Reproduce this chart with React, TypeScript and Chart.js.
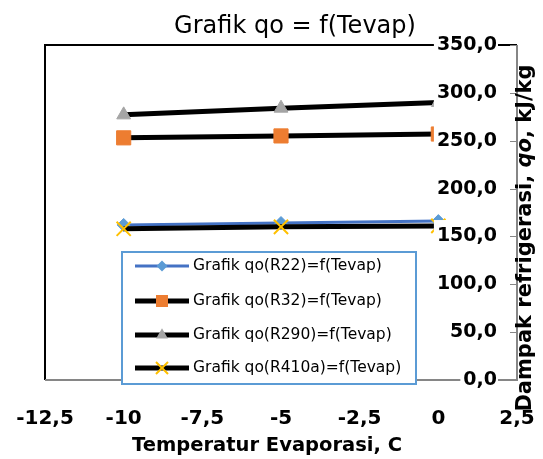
import React, { useEffect, useRef } from "react";
import { Chart, registerables } from "chart.js";

Chart.register(...registerables);

// ---- data ----
const temps: number[] = [-10, -5, 0];
const qoR22: number[] = [162, 164, 166];
const qoR32: number[] = [253, 255, 257];
const qoR290: number[] = [277, 284, 290];
const qoR410a: number[] = [158, 160, 161];
const seriesNames: string[] = [
  "Grafik qo(R22)=f(Tevap)",
  "Grafik qo(R32)=f(Tevap)",
  "Grafik qo(R290)=f(Tevap)",
  "Grafik qo(R410a)=f(Tevap)",
];
const xMin = -12.5;
const xMax = 2.5;
const xStep = 2.5;
const yMin = 0;
const yMax = 350;
const yStep = 50;
const chartTitle = "Grafik qo = f(Tevap)";
const xTitle = "Temperatur Evaporasi, C";
const yTitleParts: [string, boolean][] = [
  ["Dampak refrigerasi, ", false],
  ["qo", true],
  [", kJ/kg", false],
];

const FONT = "'DejaVu Sans', sans-serif";

type Style = {
  line: string;
  lineWidth: number;
  point: string;
  radius: number;
  fill: string;
};
const styles: Style[] = [
  { line: "#4472C4", lineWidth: 3, point: "rectRot", radius: 6.5, fill: "#5B9BD5" },
  { line: "#000000", lineWidth: 5, point: "rect", radius: 10, fill: "#ED7D31" },
  { line: "#000000", lineWidth: 5, point: "triangle", radius: 8, fill: "#A5A5A5" },
  { line: "#000000", lineWidth: 5, point: "crossRot", radius: 10, fill: "#FFC000" },
];

const fmt = (v: number, dec: number) => v.toFixed(dec).replace(".", ",");

function drawMarker(ctx: CanvasRenderingContext2D, kind: string, x: number, y: number, r: number, color: string) {
  ctx.save();
  ctx.fillStyle = color;
  ctx.strokeStyle = color;
  ctx.beginPath();
  if (kind === "rectRot") {
    ctx.moveTo(x, y - r);
    ctx.lineTo(x + r, y);
    ctx.lineTo(x, y + r);
    ctx.lineTo(x - r, y);
    ctx.closePath();
    ctx.fill();
  } else if (kind === "rect") {
    const s = r * Math.SQRT1_2;
    ctx.rect(x - s, y - s, 2 * s, 2 * s);
    ctx.fill();
  } else if (kind === "triangle") {
    const c = Math.cos(Math.PI / 6) * r;
    ctx.moveTo(x, y - r);
    ctx.lineTo(x + c, y + r / 2);
    ctx.lineTo(x - c, y + r / 2);
    ctx.closePath();
    ctx.fill();
  } else if (kind === "crossRot") {
    const s = r * Math.SQRT1_2;
    ctx.lineWidth = 2;
    ctx.moveTo(x - s, y - s);
    ctx.lineTo(x + s, y + s);
    ctx.moveTo(x + s, y - s);
    ctx.lineTo(x - s, y + s);
    ctx.stroke();
  }
  ctx.restore();
}

const framePlugin = {
  id: "frame",
  beforeDatasetsDraw(chart: any) {
    const { ctx, chartArea: a, scales } = chart;
    ctx.save();
    ctx.lineWidth = 2;
    ctx.strokeStyle = "#000000";
    ctx.beginPath();
    ctx.moveTo(a.left, a.bottom);
    ctx.lineTo(a.left, a.top);
    ctx.lineTo(a.right, a.top);
    ctx.stroke();
    ctx.strokeStyle = "#868686";
    ctx.beginPath();
    ctx.moveTo(a.left, a.bottom);
    ctx.lineTo(a.right, a.bottom);
    ctx.lineTo(a.right, a.top);
    ctx.stroke();
    ctx.lineWidth = 1;
    const ys = scales.y;
    ys.ticks.forEach((t: any) => {
      const py = Math.round(ys.getPixelForValue(t.value)) + 0.5;
      ctx.beginPath();
      ctx.moveTo(a.right - 7, py);
      ctx.lineTo(a.right, py);
      ctx.stroke();
    });
    ctx.restore();
  },
};

const textPlugin = {
  id: "texts",
  afterDraw(chart: any) {
    const { ctx } = chart;
    ctx.save();
    ctx.fillStyle = "#000000";
    // chart title
    ctx.font = `24px ${FONT}`;
    ctx.textAlign = "center";
    ctx.textBaseline = "alphabetic";
    ctx.fillText(chartTitle, 295, 33);
    // x title
    ctx.font = `bold 19.5px ${FONT}`;
    ctx.fillText(xTitle, 267, 451);
    // y title (rotated, mixed italic)
    ctx.translate(531, 238);
    ctx.rotate(-Math.PI / 2);
    const fonts = yTitleParts.map(([, it]) => `${it ? "italic " : ""}bold 21px ${FONT}`);
    let total = 0;
    const widths = yTitleParts.map(([t], i) => {
      ctx.font = fonts[i];
      const w = ctx.measureText(t).width;
      total += w;
      return w;
    });
    let cx = -total / 2;
    ctx.textAlign = "left";
    yTitleParts.forEach(([t], i) => {
      ctx.font = fonts[i];
      ctx.fillText(t, cx, 0);
      cx += widths[i];
    });
    ctx.restore();

    // legend
    ctx.save();
    const lx = 122, ly = 252, lw = 294, lh = 132;
    ctx.fillStyle = "#ffffff";
    ctx.fillRect(lx, ly, lw, lh);
    ctx.strokeStyle = "#5B9BD5";
    ctx.lineWidth = 2;
    ctx.strokeRect(lx, ly, lw, lh);
    const rows = [266, 301, 335, 368];
    seriesNames.forEach((name, i) => {
      const s = styles[i];
      const y = rows[i];
      ctx.strokeStyle = s.line;
      ctx.lineWidth = s.lineWidth;
      ctx.beginPath();
      ctx.moveTo(135, y);
      ctx.lineTo(189, y);
      ctx.stroke();
      drawMarker(ctx, s.point, 162, y, s.radius * 0.85, s.fill);
      ctx.fillStyle = "#000000";
      ctx.font = `15.5px ${FONT}`;
      ctx.textAlign = "left";
      ctx.textBaseline = "middle";
      ctx.fillText(name, 193, y);
    });
    ctx.restore();
  },
};

export default function App() {
  const ref = useRef<HTMLCanvasElement | null>(null);
  useEffect(() => {
    if (!ref.current) return;
    const series = [qoR22, qoR32, qoR290, qoR410a];
    const chart = new Chart(ref.current, {
      type: "line",
      data: {
        datasets: series.map((vals, i) => ({
          label: seriesNames[i],
          data: temps.map((t, j) => ({ x: t, y: vals[j] })),
          borderColor: styles[i].line,
          borderWidth: styles[i].lineWidth,
          pointStyle: styles[i].point as any,
          pointRadius: styles[i].radius,
          pointBackgroundColor: styles[i].fill,
          pointBorderColor: styles[i].fill,
          pointBorderWidth: styles[i].point === "crossRot" ? 2 : 1,
          fill: false,
          tension: 0,
          order: 4 - i,
        })),
      },
      options: {
        animation: false,
        responsive: false,
        layout: { autoPadding: false, padding: { left: 45, top: 45, right: 0, bottom: 0 } },
        plugins: {
          legend: { display: false },
          title: { display: false },
          tooltip: { enabled: false },
        },
        scales: {
          x: {
            type: "linear",
            position: "bottom",
            min: xMin,
            max: xMax,
            grid: { display: false, drawTicks: false },
            border: { display: false },
            ticks: {
              stepSize: xStep,
              padding: 27,
              color: "#000000",
              font: { family: FONT, size: 20, weight: "bold" },
              maxRotation: 0,
              autoSkip: false,
              callback: (v: any) => (Number.isInteger(v) ? String(v) : fmt(Number(v), 1)),
            },
            afterFit: (s: any) => {
              s.height = 79;
              s.paddingLeft = 0;
              s.paddingRight = 0;
            },
          },
          y: {
            type: "linear",
            position: "right",
            min: yMin,
            max: yMax,
            grid: { display: false, drawTicks: false },
            border: { display: false },
            ticks: {
              stepSize: yStep,
              mirror: true,
              padding: -20,
              z: 1,
              color: "#000000",
              font: { family: FONT, size: 19, weight: "bold" },
              showLabelBackdrop: true,
              backdropColor: "#ffffff",
              backdropPadding: { top: 5, bottom: 5, left: 3, right: 1 },
              callback: (v: any) => fmt(Number(v), 1),
            } as any,
            afterFit: (s: any) => {
              s.width = 26;
              s.paddingTop = 0;
              s.paddingBottom = 0;
            },
          },
        },
      },
      plugins: [framePlugin, textPlugin],
    });
    return () => chart.destroy();
  }, []);
  return (
    <div style={{ position: "fixed", left: 0, top: 0, width: 543, height: 459, background: "#ffffff" }}>
      <canvas ref={ref} width={543} height={459} />
    </div>
  );
}
